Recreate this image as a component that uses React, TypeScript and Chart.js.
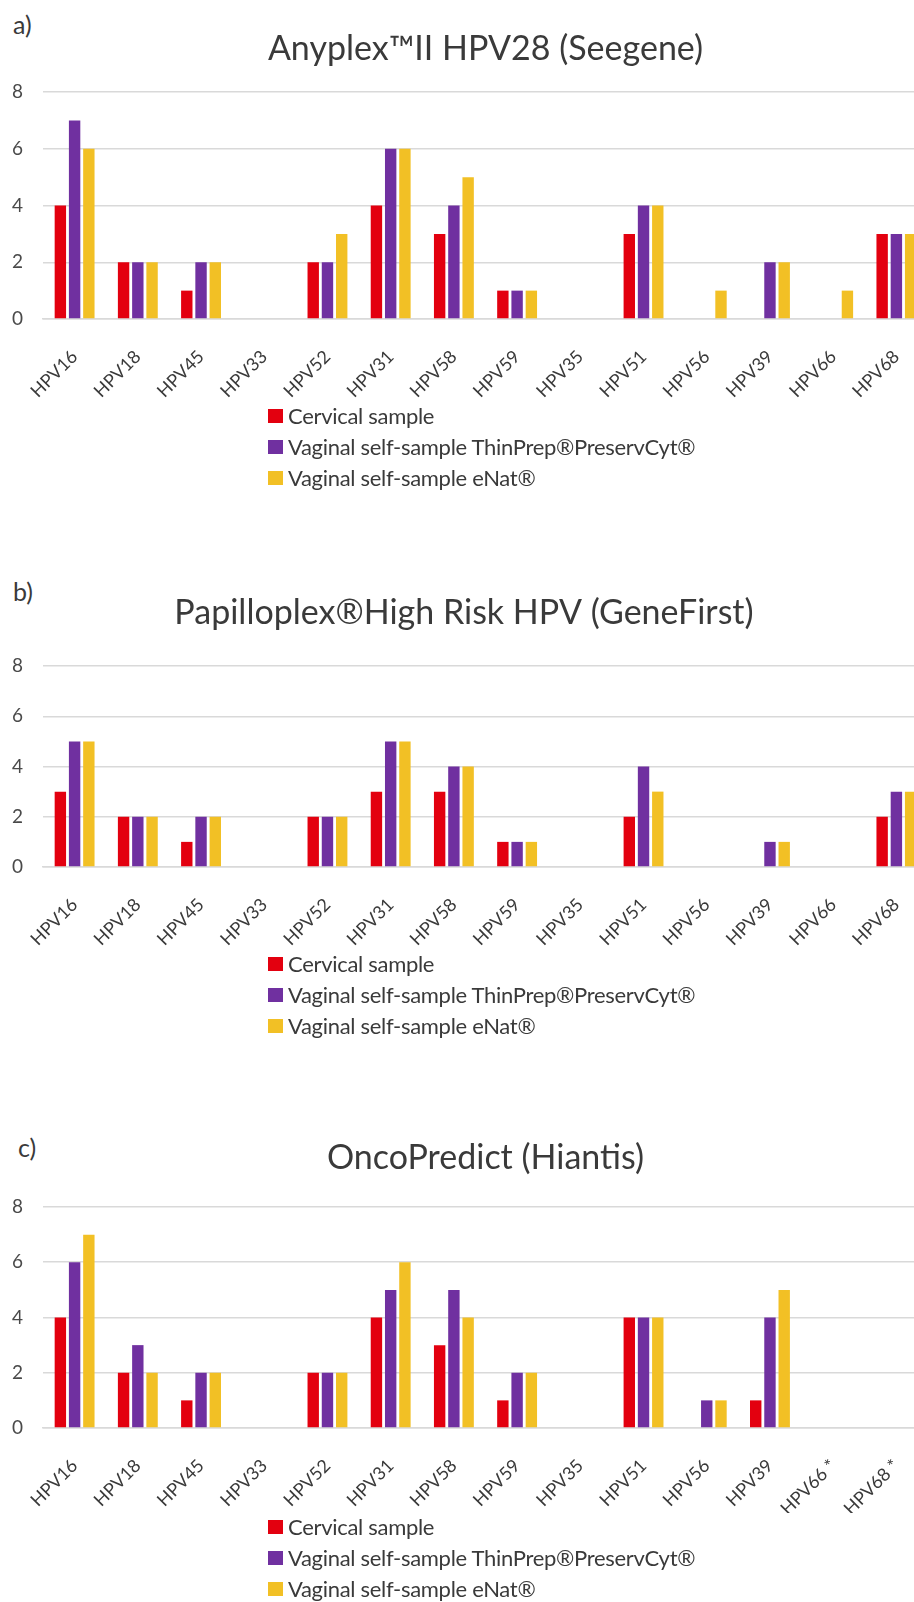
import React, { useEffect, useRef } from "react";
import { Chart, registerables } from "chart.js";

Chart.register(...registerables);

// ---------- data ----------
const hpvTypes = ["HPV16", "HPV18", "HPV45", "HPV33", "HPV52", "HPV31", "HPV58", "HPV59", "HPV35", "HPV51", "HPV56", "HPV39", "HPV66", "HPV68"];
const hpvTypesOnco = ["HPV16", "HPV18", "HPV45", "HPV33", "HPV52", "HPV31", "HPV58", "HPV59", "HPV35", "HPV51", "HPV56", "HPV39", "HPV66 *", "HPV68 *"];
const seriesNames = ["Cervical sample", "Vaginal self-sample ThinPrep®PreservCyt®", "Vaginal self-sample eNat®"];
const seriesColors = ["#e3000f", "#7030a0", "#f2c025"];
const yTicks = [0, 2, 4, 6, 8];

const anyplexCervical = [4, 2, 1, 0, 2, 4, 3, 1, 0, 3, 0, 0, 0, 3];
const anyplexThinPrep = [7, 2, 2, 0, 2, 6, 4, 1, 0, 4, 0, 2, 0, 3];
const anyplexENat = [6, 2, 2, 0, 3, 6, 5, 1, 0, 4, 1, 2, 1, 3];

const papilloCervical = [3, 2, 1, 0, 2, 3, 3, 1, 0, 2, 0, 0, 0, 2];
const papilloThinPrep = [5, 2, 2, 0, 2, 5, 4, 1, 0, 4, 0, 1, 0, 3];
const papilloENat = [5, 2, 2, 0, 2, 5, 4, 1, 0, 3, 0, 1, 0, 3];

const oncoCervical = [4, 2, 1, 0, 2, 4, 3, 1, 0, 4, 0, 1, 0, 0];
const oncoThinPrep = [6, 3, 2, 0, 2, 5, 5, 2, 0, 4, 1, 4, 0, 0];
const oncoENat = [7, 2, 2, 0, 2, 6, 4, 2, 0, 4, 1, 5, 0, 0];

const FONT = "Lato, 'Open Sans', sans-serif";
const TEXT = "#3a3a3a";

type PanelProps = {
  letter: string;
  letterTop: number;
  letterLeft: number;
  title: string;
  titleFullSize: boolean;
  labels: string[];
  values: number[][];
  top: number;
  padTop: number;
  titleGap: number;
  chartBottom: number; // absolute y of chart-area bottom
  legendTop: number; // absolute y of first legend item centre
};

const CANVAS_W = 971;
const X_AXIS_H = 85;
const EXTRA_BOTTOM = 40;
const TITLE_SIZE = 34;

function Panel(p: PanelProps) {
  const ref = useRef<HTMLCanvasElement | null>(null);
  const height = p.chartBottom - p.top + X_AXIS_H + EXTRA_BOTTOM;
  useEffect(() => {
    if (!ref.current) return;
    const chart = new Chart(ref.current, {
      type: "bar",
      data: {
        labels: p.labels,
        datasets: p.values.map((v, i) => ({
          label: seriesNames[i],
          data: v,
          backgroundColor: seriesColors[i],
          borderWidth: 0,
          categoryPercentage: 0.676,
          barPercentage: 0.8,
        })),
      },
      options: {
        responsive: false,
        animation: false,
        devicePixelRatio: 1,
        layout: { padding: { top: p.padTop, left: 0, right: 43, bottom: EXTRA_BOTTOM } },
        plugins: {
          legend: { display: false },
          tooltip: { enabled: false },
          title: {
            display: true,
            fullSize: p.titleFullSize,
            text: p.title,
            color: TEXT,
            font: { family: FONT, size: TITLE_SIZE, weight: "normal", lineHeight: 1.2 },
            padding: { top: 0, bottom: p.titleGap },
          },
        },
        scales: {
          x: {
            grid: { display: false, drawTicks: false },
            border: { display: true, color: "#d9d9d9", width: 1.5 },
            ticks: {
              color: TEXT,
              font: { family: FONT, size: 18 },
              minRotation: 45,
              maxRotation: 45,
              autoSkip: false,
              padding: 27,
            },
            afterFit: (s: any) => {
              s.height = X_AXIS_H;
            },
          },
          y: {
            min: 0,
            max: 8,
            grid: { color: "#d9d9d9", lineWidth: 1.5, drawTicks: false },
            border: { display: false },
            ticks: {
              color: "#4a4a4a",
              font: { family: FONT, size: 19 },
              padding: 20,
            },
            afterBuildTicks: (s: any) => {
              s.ticks = yTicks.map((v) => ({ value: v }));
            },
            afterFit: (s: any) => {
              s.width = 43;
            },
          },
        },
      },
    });
    return () => chart.destroy();
  }, []);

  return (
    <>
      <div
        style={{
          position: "absolute",
          left: p.letterLeft,
          top: p.letterTop,
          transform: "translateY(-50%)",
          font: `25px ${FONT}`,
          color: TEXT,
          lineHeight: 1,
        }}
      >
        {p.letter}
      </div>
      <canvas
        ref={ref}
        width={CANVAS_W}
        height={height}
        style={{ position: "absolute", left: 0, top: p.top, width: CANVAS_W, height }}
      />
      {seriesNames.map((name, i) => (
        <div
          key={name}
          style={{
            position: "absolute",
            left: 268,
            top: p.legendTop + i * 31,
            transform: "translateY(-50%)",
            display: "flex",
            alignItems: "center",
            font: `22px ${FONT}`,
            color: TEXT,
            lineHeight: 1,
            whiteSpace: "nowrap",
            letterSpacing: -0.3,
          }}
        >
          <span
            style={{
              display: "inline-block",
              width: 15,
              height: 14,
              background: seriesColors[i],
              marginRight: 5,
            }}
          />
          <span>{name}</span>
        </div>
      ))}
    </>
  );
}

export default function App() {
  // title centre y = top + padTop + th/2 ; chart top = top + padTop + th + titleGap
  const th = TITLE_SIZE * 1.2;
  return (
    <div
      style={{
        position: "absolute",
        left: 0,
        top: 0,
        width: 914,
        height: 1602,
        overflow: "hidden",
        background: "#ffffff",
      }}
    >
      <Panel
        letter="a)"
        letterTop={24}
        letterLeft={13}
        title="Anyplex™II HPV28 (Seegene)"
        titleFullSize={false}
        labels={hpvTypes}
        values={[anyplexCervical, anyplexThinPrep, anyplexENat]}
        top={0}
        padTop={49 - th / 2}
        titleGap={92 - (49 + th / 2)}
        chartBottom={319}
        legendTop={416}
      />
      <Panel
        letter="b)"
        letterTop={591}
        letterLeft={13}
        title="Papilloplex®High Risk HPV (GeneFirst)"
        titleFullSize={true}
        labels={hpvTypes}
        values={[papilloCervical, papilloThinPrep, papilloENat]}
        top={560}
        padTop={613 - 560 - th / 2}
        titleGap={666 - (613 + th / 2)}
        chartBottom={867}
        legendTop={964}
      />
      <Panel
        letter="c)"
        letterTop={1147}
        letterLeft={18}
        title="OncoPredict (Hiantis)"
        titleFullSize={false}
        labels={hpvTypesOnco}
        values={[oncoCervical, oncoThinPrep, oncoENat]}
        top={1100}
        padTop={1158 - 1100 - th / 2}
        titleGap={1207 - (1158 + th / 2)}
        chartBottom={1428}
        legendTop={1527}
      />
    </div>
  );
}
